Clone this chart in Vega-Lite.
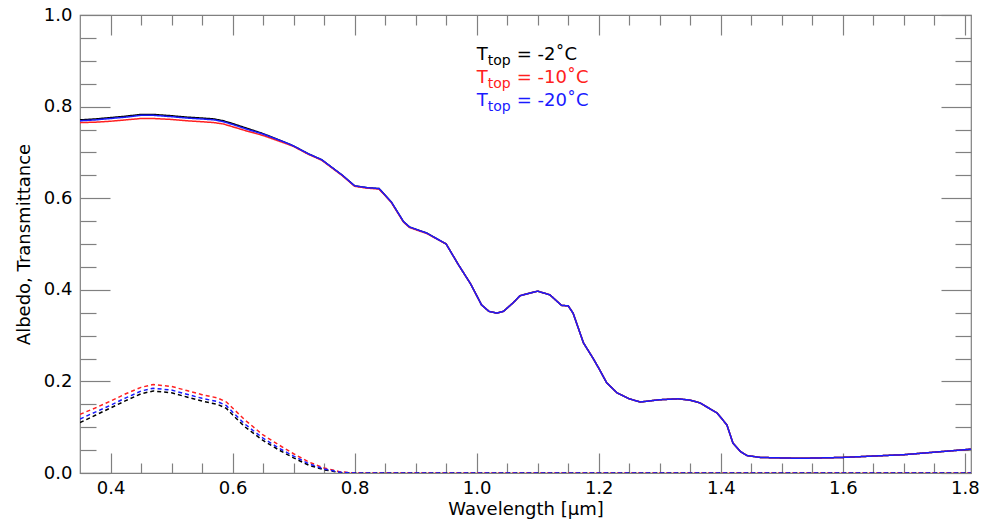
{
  "$schema": "https://vega.github.io/schema/vega-lite/v6.json",
  "width": 891,
  "height": 458,
  "autosize": "none",
  "padding": {"left": 80, "top": 15, "right": 10, "bottom": 51},
  "background": "white",
  "config": {
    "font": "DejaVu Sans",
    "view": {"stroke": "#808080", "strokeWidth": 1.2},
    "axis": {
      "labelFont": "DejaVu Sans",
      "labelFontSize": 18,
      "labelColor": "black",
      "titleFont": "DejaVu Sans",
      "titleFontSize": 18,
      "titleFontWeight": "normal",
      "titleColor": "black",
      "tickColor": "#808080",
      "tickWidth": 1.2,
      "grid": false,
      "domain": false
    }
  },
  "datasets": {
    "curves": [
      {"wl": 0.35, "v": 0.771, "s": "-2", "k": "A"},
      {"wl": 0.375, "v": 0.773, "s": "-2", "k": "A"},
      {"wl": 0.40, "v": 0.776, "s": "-2", "k": "A"},
      {"wl": 0.425, "v": 0.779, "s": "-2", "k": "A"},
      {"wl": 0.45, "v": 0.783, "s": "-2", "k": "A"},
      {"wl": 0.47, "v": 0.783, "s": "-2", "k": "A"},
      {"wl": 0.50, "v": 0.780, "s": "-2", "k": "A"},
      {"wl": 0.525, "v": 0.777, "s": "-2", "k": "A"},
      {"wl": 0.55, "v": 0.775, "s": "-2", "k": "A"},
      {"wl": 0.57, "v": 0.773, "s": "-2", "k": "A"},
      {"wl": 0.585, "v": 0.769, "s": "-2", "k": "A"},
      {"wl": 0.60, "v": 0.763, "s": "-2", "k": "A"},
      {"wl": 0.625, "v": 0.752, "s": "-2", "k": "A"},
      {"wl": 0.65, "v": 0.741, "s": "-2", "k": "A"},
      {"wl": 0.686, "v": 0.722, "s": "-2", "k": "A"},
      {"wl": 0.70, "v": 0.714, "s": "-2", "k": "A"},
      {"wl": 0.724, "v": 0.697, "s": "-2", "k": "A"},
      {"wl": 0.746, "v": 0.684, "s": "-2", "k": "A"},
      {"wl": 0.765, "v": 0.665, "s": "-2", "k": "A"},
      {"wl": 0.78, "v": 0.650, "s": "-2", "k": "A"},
      {"wl": 0.80, "v": 0.627, "s": "-2", "k": "A"},
      {"wl": 0.82, "v": 0.623, "s": "-2", "k": "A"},
      {"wl": 0.84, "v": 0.621, "s": "-2", "k": "A"},
      {"wl": 0.86, "v": 0.592, "s": "-2", "k": "A"},
      {"wl": 0.88, "v": 0.549, "s": "-2", "k": "A"},
      {"wl": 0.89, "v": 0.537, "s": "-2", "k": "A"},
      {"wl": 0.918, "v": 0.524, "s": "-2", "k": "A"},
      {"wl": 0.95, "v": 0.500, "s": "-2", "k": "A"},
      {"wl": 0.97, "v": 0.455, "s": "-2", "k": "A"},
      {"wl": 0.99, "v": 0.413, "s": "-2", "k": "A"},
      {"wl": 1.008, "v": 0.367, "s": "-2", "k": "A"},
      {"wl": 1.02, "v": 0.353, "s": "-2", "k": "A"},
      {"wl": 1.033, "v": 0.349, "s": "-2", "k": "A"},
      {"wl": 1.044, "v": 0.353, "s": "-2", "k": "A"},
      {"wl": 1.06, "v": 0.372, "s": "-2", "k": "A"},
      {"wl": 1.071, "v": 0.387, "s": "-2", "k": "A"},
      {"wl": 1.082, "v": 0.391, "s": "-2", "k": "A"},
      {"wl": 1.10, "v": 0.397, "s": "-2", "k": "A"},
      {"wl": 1.12, "v": 0.389, "s": "-2", "k": "A"},
      {"wl": 1.139, "v": 0.366, "s": "-2", "k": "A"},
      {"wl": 1.15, "v": 0.365, "s": "-2", "k": "A"},
      {"wl": 1.158, "v": 0.349, "s": "-2", "k": "A"},
      {"wl": 1.175, "v": 0.284, "s": "-2", "k": "A"},
      {"wl": 1.19, "v": 0.252, "s": "-2", "k": "A"},
      {"wl": 1.20, "v": 0.229, "s": "-2", "k": "A"},
      {"wl": 1.213, "v": 0.197, "s": "-2", "k": "A"},
      {"wl": 1.23, "v": 0.175, "s": "-2", "k": "A"},
      {"wl": 1.25, "v": 0.162, "s": "-2", "k": "A"},
      {"wl": 1.268, "v": 0.155, "s": "-2", "k": "A"},
      {"wl": 1.30, "v": 0.160, "s": "-2", "k": "A"},
      {"wl": 1.33, "v": 0.162, "s": "-2", "k": "A"},
      {"wl": 1.35, "v": 0.159, "s": "-2", "k": "A"},
      {"wl": 1.366, "v": 0.153, "s": "-2", "k": "A"},
      {"wl": 1.394, "v": 0.131, "s": "-2", "k": "A"},
      {"wl": 1.41, "v": 0.105, "s": "-2", "k": "A"},
      {"wl": 1.42, "v": 0.065, "s": "-2", "k": "A"},
      {"wl": 1.432, "v": 0.047, "s": "-2", "k": "A"},
      {"wl": 1.443, "v": 0.038, "s": "-2", "k": "A"},
      {"wl": 1.465, "v": 0.034, "s": "-2", "k": "A"},
      {"wl": 1.53, "v": 0.032, "s": "-2", "k": "A"},
      {"wl": 1.60, "v": 0.034, "s": "-2", "k": "A"},
      {"wl": 1.70, "v": 0.040, "s": "-2", "k": "A"},
      {"wl": 1.81, "v": 0.052, "s": "-2", "k": "A"},

      {"wl": 0.35, "v": 0.110, "s": "-2", "k": "T"},
      {"wl": 0.375, "v": 0.126, "s": "-2", "k": "T"},
      {"wl": 0.40, "v": 0.142, "s": "-2", "k": "T"},
      {"wl": 0.425, "v": 0.158, "s": "-2", "k": "T"},
      {"wl": 0.45, "v": 0.173, "s": "-2", "k": "T"},
      {"wl": 0.47, "v": 0.179, "s": "-2", "k": "T"},
      {"wl": 0.50, "v": 0.175, "s": "-2", "k": "T"},
      {"wl": 0.525, "v": 0.166, "s": "-2", "k": "T"},
      {"wl": 0.55, "v": 0.157, "s": "-2", "k": "T"},
      {"wl": 0.575, "v": 0.150, "s": "-2", "k": "T"},
      {"wl": 0.59, "v": 0.141, "s": "-2", "k": "T"},
      {"wl": 0.60, "v": 0.127, "s": "-2", "k": "T"},
      {"wl": 0.62, "v": 0.101, "s": "-2", "k": "T"},
      {"wl": 0.65, "v": 0.071, "s": "-2", "k": "T"},
      {"wl": 0.675, "v": 0.051, "s": "-2", "k": "T"},
      {"wl": 0.70, "v": 0.033, "s": "-2", "k": "T"},
      {"wl": 0.725, "v": 0.017, "s": "-2", "k": "T"},
      {"wl": 0.75, "v": 0.007, "s": "-2", "k": "T"},
      {"wl": 0.775, "v": 0.001, "s": "-2", "k": "T"},
      {"wl": 0.80, "v": 0.0, "s": "-2", "k": "T"},
      {"wl": 1.20, "v": 0.0, "s": "-2", "k": "T"},
      {"wl": 1.81, "v": 0.0, "s": "-2", "k": "T"},

      {"wl": 0.35, "v": 0.765, "s": "-10", "k": "A"},
      {"wl": 0.375, "v": 0.766, "s": "-10", "k": "A"},
      {"wl": 0.40, "v": 0.768, "s": "-10", "k": "A"},
      {"wl": 0.425, "v": 0.771, "s": "-10", "k": "A"},
      {"wl": 0.45, "v": 0.774, "s": "-10", "k": "A"},
      {"wl": 0.47, "v": 0.774, "s": "-10", "k": "A"},
      {"wl": 0.50, "v": 0.772, "s": "-10", "k": "A"},
      {"wl": 0.525, "v": 0.769, "s": "-10", "k": "A"},
      {"wl": 0.55, "v": 0.767, "s": "-10", "k": "A"},
      {"wl": 0.57, "v": 0.765, "s": "-10", "k": "A"},
      {"wl": 0.585, "v": 0.762, "s": "-10", "k": "A"},
      {"wl": 0.60, "v": 0.756, "s": "-10", "k": "A"},
      {"wl": 0.625, "v": 0.746, "s": "-10", "k": "A"},
      {"wl": 0.65, "v": 0.737, "s": "-10", "k": "A"},
      {"wl": 0.686, "v": 0.720, "s": "-10", "k": "A"},
      {"wl": 0.70, "v": 0.713, "s": "-10", "k": "A"},
      {"wl": 0.724, "v": 0.696, "s": "-10", "k": "A"},
      {"wl": 0.746, "v": 0.683, "s": "-10", "k": "A"},
      {"wl": 0.765, "v": 0.664, "s": "-10", "k": "A"},
      {"wl": 0.78, "v": 0.649, "s": "-10", "k": "A"},
      {"wl": 0.80, "v": 0.626, "s": "-10", "k": "A"},
      {"wl": 0.82, "v": 0.622, "s": "-10", "k": "A"},
      {"wl": 0.84, "v": 0.620, "s": "-10", "k": "A"},
      {"wl": 0.86, "v": 0.591, "s": "-10", "k": "A"},
      {"wl": 0.88, "v": 0.548, "s": "-10", "k": "A"},
      {"wl": 0.89, "v": 0.536, "s": "-10", "k": "A"},
      {"wl": 0.918, "v": 0.523, "s": "-10", "k": "A"},
      {"wl": 0.95, "v": 0.500, "s": "-10", "k": "A"},
      {"wl": 0.97, "v": 0.455, "s": "-10", "k": "A"},
      {"wl": 0.99, "v": 0.413, "s": "-10", "k": "A"},
      {"wl": 1.008, "v": 0.367, "s": "-10", "k": "A"},
      {"wl": 1.02, "v": 0.353, "s": "-10", "k": "A"},
      {"wl": 1.033, "v": 0.349, "s": "-10", "k": "A"},
      {"wl": 1.044, "v": 0.353, "s": "-10", "k": "A"},
      {"wl": 1.06, "v": 0.372, "s": "-10", "k": "A"},
      {"wl": 1.071, "v": 0.387, "s": "-10", "k": "A"},
      {"wl": 1.082, "v": 0.391, "s": "-10", "k": "A"},
      {"wl": 1.10, "v": 0.397, "s": "-10", "k": "A"},
      {"wl": 1.12, "v": 0.389, "s": "-10", "k": "A"},
      {"wl": 1.139, "v": 0.366, "s": "-10", "k": "A"},
      {"wl": 1.15, "v": 0.365, "s": "-10", "k": "A"},
      {"wl": 1.158, "v": 0.349, "s": "-10", "k": "A"},
      {"wl": 1.175, "v": 0.284, "s": "-10", "k": "A"},
      {"wl": 1.19, "v": 0.252, "s": "-10", "k": "A"},
      {"wl": 1.20, "v": 0.229, "s": "-10", "k": "A"},
      {"wl": 1.213, "v": 0.197, "s": "-10", "k": "A"},
      {"wl": 1.23, "v": 0.175, "s": "-10", "k": "A"},
      {"wl": 1.25, "v": 0.162, "s": "-10", "k": "A"},
      {"wl": 1.268, "v": 0.155, "s": "-10", "k": "A"},
      {"wl": 1.30, "v": 0.160, "s": "-10", "k": "A"},
      {"wl": 1.33, "v": 0.162, "s": "-10", "k": "A"},
      {"wl": 1.35, "v": 0.159, "s": "-10", "k": "A"},
      {"wl": 1.366, "v": 0.153, "s": "-10", "k": "A"},
      {"wl": 1.394, "v": 0.131, "s": "-10", "k": "A"},
      {"wl": 1.41, "v": 0.105, "s": "-10", "k": "A"},
      {"wl": 1.42, "v": 0.065, "s": "-10", "k": "A"},
      {"wl": 1.432, "v": 0.047, "s": "-10", "k": "A"},
      {"wl": 1.443, "v": 0.038, "s": "-10", "k": "A"},
      {"wl": 1.465, "v": 0.034, "s": "-10", "k": "A"},
      {"wl": 1.53, "v": 0.032, "s": "-10", "k": "A"},
      {"wl": 1.60, "v": 0.034, "s": "-10", "k": "A"},
      {"wl": 1.70, "v": 0.040, "s": "-10", "k": "A"},
      {"wl": 1.81, "v": 0.052, "s": "-10", "k": "A"},

      {"wl": 0.35, "v": 0.128, "s": "-10", "k": "T"},
      {"wl": 0.375, "v": 0.142, "s": "-10", "k": "T"},
      {"wl": 0.40, "v": 0.157, "s": "-10", "k": "T"},
      {"wl": 0.425, "v": 0.173, "s": "-10", "k": "T"},
      {"wl": 0.45, "v": 0.187, "s": "-10", "k": "T"},
      {"wl": 0.47, "v": 0.193, "s": "-10", "k": "T"},
      {"wl": 0.50, "v": 0.189, "s": "-10", "k": "T"},
      {"wl": 0.525, "v": 0.180, "s": "-10", "k": "T"},
      {"wl": 0.55, "v": 0.171, "s": "-10", "k": "T"},
      {"wl": 0.575, "v": 0.164, "s": "-10", "k": "T"},
      {"wl": 0.59, "v": 0.155, "s": "-10", "k": "T"},
      {"wl": 0.60, "v": 0.142, "s": "-10", "k": "T"},
      {"wl": 0.62, "v": 0.116, "s": "-10", "k": "T"},
      {"wl": 0.65, "v": 0.083, "s": "-10", "k": "T"},
      {"wl": 0.675, "v": 0.062, "s": "-10", "k": "T"},
      {"wl": 0.70, "v": 0.042, "s": "-10", "k": "T"},
      {"wl": 0.725, "v": 0.024, "s": "-10", "k": "T"},
      {"wl": 0.75, "v": 0.011, "s": "-10", "k": "T"},
      {"wl": 0.775, "v": 0.003, "s": "-10", "k": "T"},
      {"wl": 0.80, "v": 0.0, "s": "-10", "k": "T"},
      {"wl": 1.20, "v": 0.0, "s": "-10", "k": "T"},
      {"wl": 1.81, "v": 0.0, "s": "-10", "k": "T"},

      {"wl": 0.35, "v": 0.769, "s": "-20", "k": "A"},
      {"wl": 0.375, "v": 0.771, "s": "-20", "k": "A"},
      {"wl": 0.40, "v": 0.774, "s": "-20", "k": "A"},
      {"wl": 0.425, "v": 0.777, "s": "-20", "k": "A"},
      {"wl": 0.45, "v": 0.781, "s": "-20", "k": "A"},
      {"wl": 0.47, "v": 0.781, "s": "-20", "k": "A"},
      {"wl": 0.50, "v": 0.778, "s": "-20", "k": "A"},
      {"wl": 0.525, "v": 0.775, "s": "-20", "k": "A"},
      {"wl": 0.55, "v": 0.773, "s": "-20", "k": "A"},
      {"wl": 0.57, "v": 0.771, "s": "-20", "k": "A"},
      {"wl": 0.585, "v": 0.767, "s": "-20", "k": "A"},
      {"wl": 0.60, "v": 0.761, "s": "-20", "k": "A"},
      {"wl": 0.625, "v": 0.750, "s": "-20", "k": "A"},
      {"wl": 0.65, "v": 0.740, "s": "-20", "k": "A"},
      {"wl": 0.686, "v": 0.722, "s": "-20", "k": "A"},
      {"wl": 0.70, "v": 0.714, "s": "-20", "k": "A"},
      {"wl": 0.724, "v": 0.697, "s": "-20", "k": "A"},
      {"wl": 0.746, "v": 0.684, "s": "-20", "k": "A"},
      {"wl": 0.765, "v": 0.665, "s": "-20", "k": "A"},
      {"wl": 0.78, "v": 0.650, "s": "-20", "k": "A"},
      {"wl": 0.80, "v": 0.627, "s": "-20", "k": "A"},
      {"wl": 0.82, "v": 0.623, "s": "-20", "k": "A"},
      {"wl": 0.84, "v": 0.621, "s": "-20", "k": "A"},
      {"wl": 0.86, "v": 0.592, "s": "-20", "k": "A"},
      {"wl": 0.88, "v": 0.549, "s": "-20", "k": "A"},
      {"wl": 0.89, "v": 0.537, "s": "-20", "k": "A"},
      {"wl": 0.918, "v": 0.524, "s": "-20", "k": "A"},
      {"wl": 0.95, "v": 0.500, "s": "-20", "k": "A"},
      {"wl": 0.97, "v": 0.455, "s": "-20", "k": "A"},
      {"wl": 0.99, "v": 0.413, "s": "-20", "k": "A"},
      {"wl": 1.008, "v": 0.367, "s": "-20", "k": "A"},
      {"wl": 1.02, "v": 0.353, "s": "-20", "k": "A"},
      {"wl": 1.033, "v": 0.349, "s": "-20", "k": "A"},
      {"wl": 1.044, "v": 0.353, "s": "-20", "k": "A"},
      {"wl": 1.06, "v": 0.372, "s": "-20", "k": "A"},
      {"wl": 1.071, "v": 0.387, "s": "-20", "k": "A"},
      {"wl": 1.082, "v": 0.391, "s": "-20", "k": "A"},
      {"wl": 1.10, "v": 0.397, "s": "-20", "k": "A"},
      {"wl": 1.12, "v": 0.389, "s": "-20", "k": "A"},
      {"wl": 1.139, "v": 0.366, "s": "-20", "k": "A"},
      {"wl": 1.15, "v": 0.365, "s": "-20", "k": "A"},
      {"wl": 1.158, "v": 0.349, "s": "-20", "k": "A"},
      {"wl": 1.175, "v": 0.284, "s": "-20", "k": "A"},
      {"wl": 1.19, "v": 0.252, "s": "-20", "k": "A"},
      {"wl": 1.20, "v": 0.229, "s": "-20", "k": "A"},
      {"wl": 1.213, "v": 0.197, "s": "-20", "k": "A"},
      {"wl": 1.23, "v": 0.175, "s": "-20", "k": "A"},
      {"wl": 1.25, "v": 0.162, "s": "-20", "k": "A"},
      {"wl": 1.268, "v": 0.155, "s": "-20", "k": "A"},
      {"wl": 1.30, "v": 0.160, "s": "-20", "k": "A"},
      {"wl": 1.33, "v": 0.162, "s": "-20", "k": "A"},
      {"wl": 1.35, "v": 0.159, "s": "-20", "k": "A"},
      {"wl": 1.366, "v": 0.153, "s": "-20", "k": "A"},
      {"wl": 1.394, "v": 0.131, "s": "-20", "k": "A"},
      {"wl": 1.41, "v": 0.105, "s": "-20", "k": "A"},
      {"wl": 1.42, "v": 0.065, "s": "-20", "k": "A"},
      {"wl": 1.432, "v": 0.047, "s": "-20", "k": "A"},
      {"wl": 1.443, "v": 0.038, "s": "-20", "k": "A"},
      {"wl": 1.465, "v": 0.034, "s": "-20", "k": "A"},
      {"wl": 1.53, "v": 0.032, "s": "-20", "k": "A"},
      {"wl": 1.60, "v": 0.034, "s": "-20", "k": "A"},
      {"wl": 1.70, "v": 0.040, "s": "-20", "k": "A"},
      {"wl": 1.81, "v": 0.052, "s": "-20", "k": "A"},

      {"wl": 0.35, "v": 0.118, "s": "-20", "k": "T"},
      {"wl": 0.375, "v": 0.133, "s": "-20", "k": "T"},
      {"wl": 0.40, "v": 0.148, "s": "-20", "k": "T"},
      {"wl": 0.425, "v": 0.164, "s": "-20", "k": "T"},
      {"wl": 0.45, "v": 0.179, "s": "-20", "k": "T"},
      {"wl": 0.47, "v": 0.185, "s": "-20", "k": "T"},
      {"wl": 0.50, "v": 0.181, "s": "-20", "k": "T"},
      {"wl": 0.525, "v": 0.172, "s": "-20", "k": "T"},
      {"wl": 0.55, "v": 0.163, "s": "-20", "k": "T"},
      {"wl": 0.575, "v": 0.156, "s": "-20", "k": "T"},
      {"wl": 0.59, "v": 0.147, "s": "-20", "k": "T"},
      {"wl": 0.60, "v": 0.133, "s": "-20", "k": "T"},
      {"wl": 0.62, "v": 0.107, "s": "-20", "k": "T"},
      {"wl": 0.65, "v": 0.076, "s": "-20", "k": "T"},
      {"wl": 0.675, "v": 0.055, "s": "-20", "k": "T"},
      {"wl": 0.70, "v": 0.037, "s": "-20", "k": "T"},
      {"wl": 0.725, "v": 0.020, "s": "-20", "k": "T"},
      {"wl": 0.75, "v": 0.009, "s": "-20", "k": "T"},
      {"wl": 0.775, "v": 0.002, "s": "-20", "k": "T"},
      {"wl": 0.80, "v": 0.0, "s": "-20", "k": "T"},
      {"wl": 1.20, "v": 0.0, "s": "-20", "k": "T"},
      {"wl": 1.81, "v": 0.0, "s": "-20", "k": "T"}
    ],
    "legend": [
      {"wl": 1.0, "v": 0.901, "s": "-2", "t": "T", "sub": "top", "rest": "= -2˚C"},
      {"wl": 1.0, "v": 0.851, "s": "-10", "t": "T", "sub": "top", "rest": "= -10˚C"},
      {"wl": 1.0, "v": 0.802, "s": "-20", "t": "T", "sub": "top", "rest": "= -20˚C"}
    ],
    "anchor": [{"wl": 0.35, "v": 0.0}]
  },
  "layer": [
    {
      "data": {"name": "curves"},
      "mark": {"type": "line", "strokeWidth": 1.5, "clip": true},
      "encoding": {
        "x": {
          "field": "wl", "type": "quantitative",
          "scale": {"domain": [0.35, 1.81], "nice": false, "zero": false},
          "axis": {
            "orient": "bottom", "values": [0.4, 0.6, 0.8, 1.0, 1.2, 1.4, 1.6, 1.8],
            "format": ".1f", "tickSize": -20, "labelPadding": 26,
            "title": "Wavelength [μm]", "titlePadding": 3
          }
        },
        "y": {
          "field": "v", "type": "quantitative",
          "scale": {"domain": [0, 1], "nice": false},
          "axis": {
            "orient": "left", "values": [0, 0.2, 0.4, 0.6, 0.8, 1.0],
            "format": ".1f", "tickSize": -30, "labelPadding": 38,
            "title": "Albedo, Transmittance", "titlePadding": 10
          }
        },
        "color": {
          "field": "s", "type": "nominal",
          "scale": {"domain": ["-2", "-10", "-20"], "range": ["#000000", "#ff2020", "#1a1aff"]},
          "legend": null
        },
        "strokeDash": {
          "field": "k", "type": "nominal",
          "scale": {"domain": ["A", "T"], "range": [[1, 0], [4, 3]]},
          "legend": null
        },
        "detail": {"field": "k"}
      }
    },
    {
      "data": {"name": "anchor"},
      "mark": {"type": "point", "opacity": 0},
      "encoding": {
        "x": {
          "field": "wl", "type": "quantitative",
          "axis": {
            "orient": "bottom",
            "values": [0.45, 0.5, 0.55, 0.65, 0.7, 0.75, 0.85, 0.9, 0.95, 1.05, 1.1, 1.15, 1.25, 1.3, 1.35, 1.45, 1.5, 1.55, 1.65, 1.7, 1.75],
            "tickSize": -10, "labels": false, "title": null
          }
        },
        "y": {
          "field": "v", "type": "quantitative",
          "axis": {
            "orient": "left",
            "values": [0.05, 0.1, 0.15, 0.25, 0.3, 0.35, 0.45, 0.5, 0.55, 0.65, 0.7, 0.75, 0.85, 0.9, 0.95],
            "tickSize": -16, "labels": false, "title": null
          }
        }
      }
    },
    {
      "data": {"name": "anchor"},
      "mark": {"type": "point", "opacity": 0},
      "encoding": {
        "x": {
          "field": "wl", "type": "quantitative",
          "axis": {
            "orient": "top", "values": [0.4, 0.6, 0.8, 1.0, 1.2, 1.4, 1.6, 1.8],
            "tickSize": -20, "labels": false, "title": null
          }
        },
        "y": {
          "field": "v", "type": "quantitative",
          "axis": {
            "orient": "right", "values": [0, 0.2, 0.4, 0.6, 0.8, 1.0],
            "tickSize": -30, "labels": false, "title": null
          }
        }
      }
    },
    {
      "data": {"name": "anchor"},
      "mark": {"type": "point", "opacity": 0},
      "encoding": {
        "x": {
          "field": "wl", "type": "quantitative",
          "axis": {
            "orient": "top",
            "values": [0.45, 0.5, 0.55, 0.65, 0.7, 0.75, 0.85, 0.9, 0.95, 1.05, 1.1, 1.15, 1.25, 1.3, 1.35, 1.45, 1.5, 1.55, 1.65, 1.7, 1.75],
            "tickSize": -10, "labels": false, "title": null
          }
        },
        "y": {
          "field": "v", "type": "quantitative",
          "axis": {
            "orient": "right",
            "values": [0.05, 0.1, 0.15, 0.25, 0.3, 0.35, 0.45, 0.5, 0.55, 0.65, 0.7, 0.75, 0.85, 0.9, 0.95],
            "tickSize": -16, "labels": false, "title": null
          }
        }
      }
    },
    {
      "data": {"name": "legend"},
      "mark": {"type": "text", "align": "left", "baseline": "alphabetic", "fontSize": 18, "font": "DejaVu Sans"},
      "encoding": {
        "x": {"field": "wl", "type": "quantitative", "axis": null},
        "y": {"field": "v", "type": "quantitative", "axis": null},
        "text": {"field": "t"},
        "color": {"field": "s", "type": "nominal", "legend": null}
      }
    },
    {
      "data": {"name": "legend"},
      "mark": {"type": "text", "align": "left", "baseline": "alphabetic", "fontSize": 14, "font": "DejaVu Sans", "dx": 11, "dy": 5},
      "encoding": {
        "x": {"field": "wl", "type": "quantitative", "axis": null},
        "y": {"field": "v", "type": "quantitative", "axis": null},
        "text": {"field": "sub"},
        "color": {"field": "s", "type": "nominal", "legend": null}
      }
    },
    {
      "data": {"name": "legend"},
      "mark": {"type": "text", "align": "left", "baseline": "alphabetic", "fontSize": 18, "font": "DejaVu Sans", "dx": 40},
      "encoding": {
        "x": {"field": "wl", "type": "quantitative", "axis": null},
        "y": {"field": "v", "type": "quantitative", "axis": null},
        "text": {"field": "rest"},
        "color": {"field": "s", "type": "nominal", "legend": null}
      }
    }
  ],
  "resolve": {"axis": {"x": "independent", "y": "independent"}}
}
